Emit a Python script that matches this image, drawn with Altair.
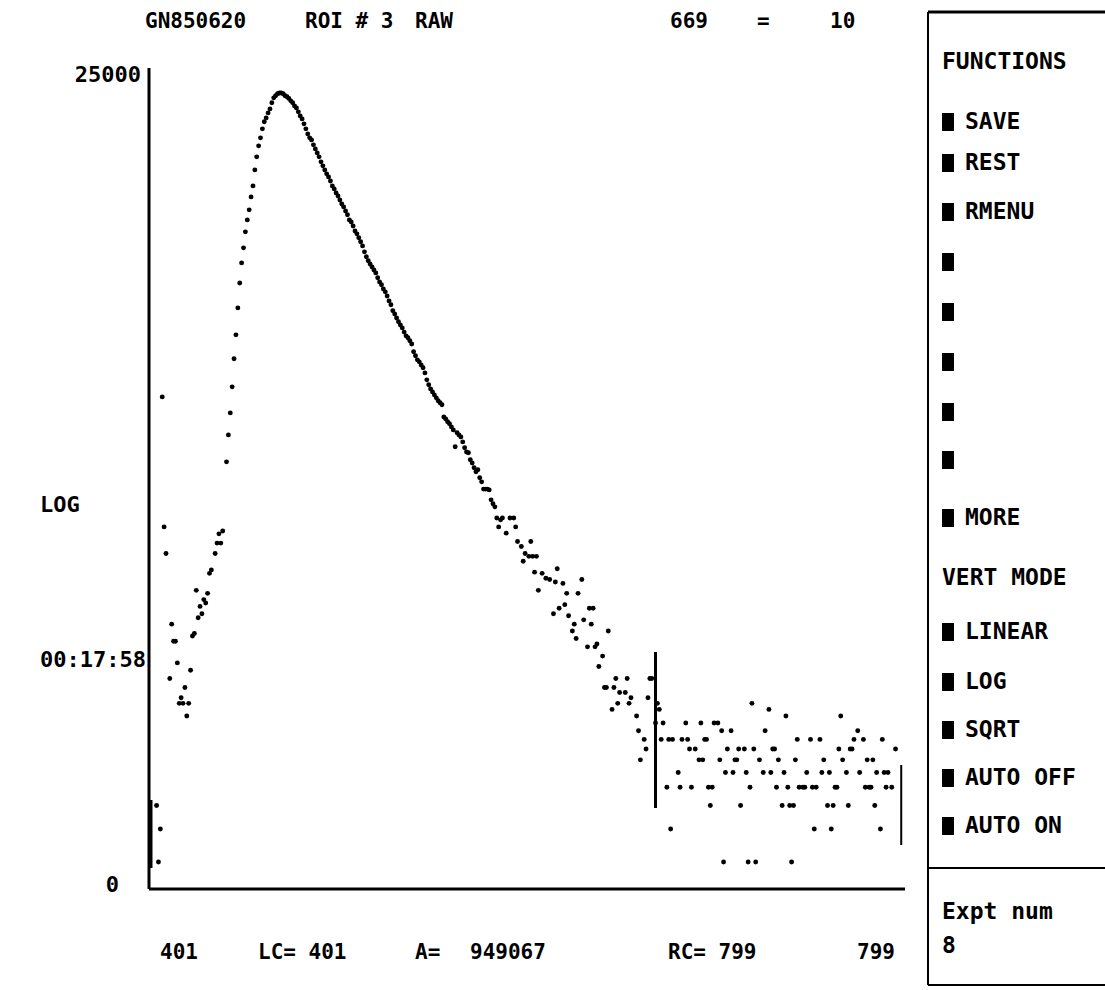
import altair as alt
import pandas as pd

# ---- data (channel number, counts) ----
channels = [
    405, 406, 407, 408, 409, 410, 412, 413, 414, 415, 416, 417, 418, 419, 420,
    421, 422, 423, 424, 425, 426, 427, 428, 429, 430, 431, 432, 433, 434, 436,
    437, 438, 439, 440, 442, 443, 444, 445, 446, 447, 448, 449, 450, 451, 452,
    453, 454, 455, 456, 457, 458, 459, 460, 461, 462, 463, 464, 465, 466, 467,
    468, 469, 470, 471, 472, 473, 474, 475, 476, 477, 478, 479, 480, 481, 482,
    483, 484, 485, 486, 487, 488, 489, 490, 491, 492, 493, 494, 495, 496, 497,
    498, 499, 500, 501, 502, 503, 504, 505, 506, 507, 508, 509, 510, 511, 512,
    513, 514, 515, 516, 517, 518, 519, 520, 521, 522, 523, 524, 525, 526, 527,
    528, 529, 530, 531, 532, 533, 534, 535, 536, 537, 538, 539, 540, 541, 542,
    543, 544, 545, 546, 547, 548, 549, 550, 551, 552, 553, 554, 555, 556, 557,
    558, 559, 560, 561, 562, 563, 564, 565, 566, 567, 568, 569, 570, 571, 572,
    573, 574, 575, 576, 577, 578, 579, 580, 581, 582, 583, 584, 585, 586, 587,
    588, 590, 592, 594, 595, 596, 598, 599, 600, 602, 603, 604, 605, 606, 607,
    609, 611, 613, 615, 616, 617, 618, 620, 621, 622, 623, 625, 626, 627, 628,
    630, 631, 633, 634, 635, 636, 637, 638, 639, 641, 642, 643, 644, 646, 647,
    648, 649, 650, 653, 654, 655, 656, 659, 660, 661, 663, 664, 665, 666, 667,
    669, 670, 671, 672, 673, 675, 676, 677, 678, 681, 682, 683, 685, 686, 687,
    688, 690, 692, 693, 694, 695, 696, 697, 698, 699, 700, 702, 703, 704, 705,
    706, 707, 709, 710, 711, 712, 713, 714, 716, 717, 718, 719, 720, 721, 722,
    724, 726, 727, 729, 730, 731, 732, 733, 734, 736, 737, 738, 739, 740, 741,
    742, 743, 744, 745, 747, 748, 749, 751, 752, 753, 754, 756, 757, 758, 760,
    761, 762, 763, 764, 765, 766, 767, 768, 770, 771, 772, 773, 774, 776, 777,
    779, 780, 781, 782, 783, 784, 785, 786, 788, 789, 790, 791, 792, 794, 796,
]
counts = [
    3, 1, 2, 600, 121, 87, 18, 36, 29, 29, 22, 13, 14, 13, 16,
    11, 13, 20, 31, 32, 55, 39, 45, 41, 49, 47, 53, 68, 71, 87,
    99, 111, 99, 115, 270, 376, 493, 679, 959, 1286, 1790, 2430, 3110, 3740, 4550,
    5270, 5960, 6990, 8000, 9730, 11420, 13070, 14420, 16100, 17570, 18420, 19590, 20570, 22170, 23560,
    24170, 24750, 25000, 25000, 24750, 24170, 23890, 23400, 22710, 22170, 21340, 20820, 19840, 18880, 18200,
    17120, 16100, 15140, 14420, 14060, 13230, 12590, 11990, 11420, 10740, 10230, 9730, 9270, 8930, 8500,
    8000, 7710, 7340, 7070, 6730, 6410, 6180, 5880, 5610, 5270, 5140, 4890, 4600, 4440, 4230,
    4030, 3830, 3560, 3350, 3190, 3070, 2960, 2850, 2750, 2590, 2460, 2380, 2260, 2180, 2070,
    1950, 1860, 1730, 1660, 1580, 1510, 1450, 1400, 1330, 1270, 1240, 1195, 1150, 1045, 994,
    946, 923, 889, 858, 806, 740, 696, 662, 638, 615, 593, 572, 558, 545, 469,
    458, 442, 431, 415, 400, 325, 386, 376, 367, 345, 321, 305, 302, 277, 266,
    251, 239, 245, 222, 211, 193, 193, 193, 191, 169, 161, 155, 135, 121, 132,
    135, 112, 135, 135, 121, 101, 95, 79, 87, 84, 101, 84, 69, 84, 55,
    68, 64, 63, 41, 61, 72, 44, 60, 46, 53, 40, 33, 36, 30, 53,
    63, 38, 27, 44, 36, 44, 27, 28, 21, 24, 16, 16, 33, 12, 16,
    18, 13, 15, 15, 18, 13, 14, 11, 9, 6, 8, 7, 14, 18, 18,
    10, 13, 12, 8, 10, 4, 8, 2, 8, 5, 4, 8, 10, 8, 7,
    4, 7, 6, 10, 6, 8, 8, 4, 3, 4, 10, 10, 6, 9, 1,
    5, 7, 9, 5, 6, 6, 7, 3, 7, 5, 1, 4, 13, 7, 1,
    6, 5, 9, 12, 5, 7, 7, 4, 6, 3, 5, 11, 4, 3, 1,
    3, 6, 8, 4, 4, 4, 5, 8, 4, 2, 4, 8, 5, 6, 3,
    5, 2, 3, 4, 4, 7, 11, 6, 5, 3, 7, 7, 8, 9, 5,
    8, 4, 6, 4, 4, 6, 3, 5, 2, 8, 5, 4, 5, 4, 7,
]

cursor_channel = 669
roi_left = 401
roi_right = 799

title_texts = ["GN850620", "ROI # 3", "RAW", "669", "=", "10"]
bottom_texts = ["401", "LC= 401", "A=", "949067", "RC= 799", "799"]
y_tick_labels = ["25000", "0"]
side_texts = ["LOG", "00:17:58"]
functions_menu = ["SAVE", "REST", "RMENU", "", "", "", "", "", "MORE"]
vert_menu = ["LINEAR", "LOG", "SQRT", "AUTO OFF", "AUTO ON"]
expt_texts = ["Expt num", "8"]

# ---- layout ----
OX, OY = 149, 68          # plot-area origin on the page
W, H = 756, 821
FONT = "DejaVu Sans Mono"

df = pd.DataFrame({"channel": channels, "counts": counts})
one = alt.Data(values=[{}])

xscale = alt.Scale(domain=[401, 801], nice=False, zero=False)
yscale = alt.Scale(type="symlog", constant=1, domain=[0, 25000],
                   range=[850.5, 25], nice=False, zero=False)

points = alt.Chart(df).mark_circle(size=24, color="black", opacity=1, clip=True).encode(
    x=alt.X("channel:Q", scale=xscale, axis=None),
    y=alt.Y("counts:Q", scale=yscale, axis=None),
)


def rule(x1, y1, x2, y2, w):
    return alt.Chart(one).mark_rule(color="black", strokeWidth=w).encode(
        x=alt.value(x1 - OX), x2=alt.value(x2 - OX),
        y=alt.value(y1 - OY), y2=alt.value(y2 - OY))


def label(text, x, y, align="left", size=22):
    return alt.Chart(one).mark_text(
        text=text, align=align, baseline="middle", font=FONT,
        fontSize=size, fontWeight="bold", color="black").encode(
        x=alt.value(x - OX), y=alt.value(y - OY))


def square(x, y):
    return alt.Chart(one).mark_rect(color="black").encode(
        x=alt.value(x - OX), x2=alt.value(x + 12 - OX),
        y=alt.value(y - 9 - OY), y2=alt.value(y + 9 - OY))


def marker(ch, y1, y2, w, dx=0):
    return alt.Chart(pd.DataFrame({"channel": [ch]})).mark_rule(
        color="black", strokeWidth=w, xOffset=dx).encode(
        x=alt.X("channel:Q", scale=xscale, axis=None),
        y=alt.value(y1 - OY), y2=alt.value(y2 - OY))


layers = [points]

# axes frame
layers.append(rule(149, 68, 149, 889, 3))
layers.append(rule(149, 889, 905, 889, 3))
# ROI markers and cursor
layers.append(marker(roi_left, 800, 868, 3, dx=2))
layers.append(marker(roi_right, 765, 845, 2))
layers.append(marker(cursor_channel, 652, 808, 3))

# side panel box
layers.append(rule(928, 12, 928, 985, 2))
layers.append(rule(928, 12, 1105, 12, 3))
layers.append(rule(928, 868, 1105, 868, 2))
layers.append(rule(928, 985, 1105, 985, 2))

# title row
title_x = [145, 305, 415, 670, 757, 830]
for t, x in zip(title_texts, title_x):
    layers.append(label(t, x, 22, size=21))

# y labels
layers.append(label(y_tick_labels[0], 141, 75, "right"))
layers.append(label(y_tick_labels[1], 119, 885, "right"))
layers.append(label(side_texts[0], 40, 505))
layers.append(label(side_texts[1], 40, 660))

# bottom row
bottom_x = [160, 258, 415, 470, 668, 895]
bottom_align = ["left", "left", "left", "left", "left", "right"]
for t, x, a in zip(bottom_texts, bottom_x, bottom_align):
    layers.append(label(t, x, 953, a, size=21))

# menu
PS = 23
layers.append(label("FUNCTIONS", 942, 62, size=PS))
func_y = [122, 163, 212, 262, 312, 362, 412, 460, 518]
for t, y in zip(functions_menu, func_y):
    layers.append(square(942, y))
    if t:
        layers.append(label(t, 965, y, size=PS))
layers.append(label("VERT MODE", 942, 578, size=PS))
vert_y = [632, 682, 730, 778, 826]
for t, y in zip(vert_menu, vert_y):
    layers.append(square(942, y))
    layers.append(label(t, 965, y, size=PS))
layers.append(label(expt_texts[0], 942, 912, size=PS))
layers.append(label(expt_texts[1], 942, 946, size=PS))

chart = alt.layer(*layers).properties(
    width=W, height=H,
    autosize=alt.AutoSizeParams(type="none"),
    padding={"left": OX, "top": OY, "right": 1105 - OX - W, "bottom": 990 - OY - H},
    background="white",
).configure_view(stroke=None)

chart.save("out.html", embed_options={"renderer": "svg", "actions": False})
